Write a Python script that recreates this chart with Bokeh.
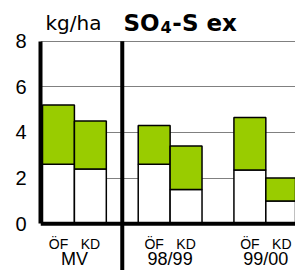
from bokeh.plotting import figure
from bokeh.models import Range1d, FixedTicker, Span, ColumnDataSource
from bokeh.core.properties import value
from bokeh.embed import file_html
from bokeh.resources import INLINE

# ---- data ----
groups = ["MV", "98/99", "99/00"]
subcats = ["ÖF", "KD"]
# lower (white) segment and upper (green) segment per bar, order: group x subcat
lower_part = [2.6, 2.4, 2.6, 1.5, 2.35, 1.0]
upper_part = [2.6, 2.1, 1.7, 1.9, 2.3, 1.0]
y_ticks = [0, 2, 4, 6, 8]
grid_ticks = [2, 4, 6, 8]
unit_label = "kg/ha"

slots_per_group = 3  # two bars + one empty slot

# bar x positions (slot centres) derived from group/subcategory indices
bar_x, bar_sub = [], []
for gi, g in enumerate(groups):
    for si, s in enumerate(subcats):
        bar_x.append(gi * slots_per_group + si + 0.5)
        bar_sub.append(s)
group_x = [gi * slots_per_group + 1.0 for gi in range(len(groups))]

src = ColumnDataSource(dict(x=bar_x, lower=lower_part, upper=upper_part, sub=bar_sub))

Y0, Y1 = -2.05, 9.78
p = figure(width=295, height=270, output_backend="svg", toolbar_location=None,
           x_range=Range1d(-0.063, 7.93), y_range=Range1d(Y0, Y1),
           x_axis_location=None, min_border_left=40, min_border_right=0,
           min_border_top=0, min_border_bottom=0)
p.outline_line_color = None
p.background_fill_color = "white"
p.border_fill_color = "white"

# grid
p.xgrid.visible = False
p.ygrid.ticker = FixedTicker(ticks=grid_ticks)
p.ygrid.grid_line_color = "#808080"
p.ygrid.grid_line_width = 1

# y axis
ax = p.yaxis[0]
ax.ticker = FixedTicker(ticks=y_ticks)
ax.bounds = (0, 8)
ax.axis_line_width = 4
ax.axis_line_color = "black"
ax.major_tick_out = 0
ax.major_tick_in = 0
ax.minor_tick_out = 0
ax.minor_tick_in = 0
ax.major_label_standoff = 14
ax.major_label_text_font = "Liberation Sans"
ax.major_label_text_font_size = "20px"
ax.major_label_text_color = "black"

# stacked bars
p.vbar_stack(["lower", "upper"], x="x", width=1.0, source=src,
             fill_color=["white", "#99CC00"], line_color="black", line_width=1.5)

# baseline
p.add_layout(Span(location=0, dimension="width", line_color="black", line_width=4))

# separator between MV and years
sep_x = slots_per_group - 0.5
p.segment(x0=[sep_x], y0=[8], x1=[sep_x], y1=[Y0], line_color="black", line_width=4)

# category labels
p.text(x=bar_x, y=[-0.88] * len(bar_x), text=bar_sub, text_align="center",
       text_baseline="alphabetic", text_font=value("Liberation Sans"),
       text_font_size="14px", text_color="black")
p.text(x=group_x, y=[-1.56] * len(group_x), text=groups, text_align="center",
       text_baseline="alphabetic", text_font=value("Liberation Sans"),
       text_font_size="18px", text_color="black")

# title texts
p.text(x=[0.094], y=[8.78], text=[unit_label], text_align="left",
       text_baseline="alphabetic", text_font=value("DejaVu Sans"),
       text_font_size="20px", text_color="black")
p.text(x=[2.54], y=[8.78], text=["SO"], text_align="left",
       text_baseline="alphabetic", text_font=value("DejaVu Sans"),
       text_font_size="23px", text_font_style="bold", text_color="black")
p.text(x=[3.70], y=[8.62], text=["4"], text_align="left",
       text_baseline="alphabetic", text_font=value("DejaVu Sans"),
       text_font_size="16px", text_font_style="bold", text_color="black")
p.text(x=[4.07], y=[8.78], text=["-S ex"], text_align="left",
       text_baseline="alphabetic", text_font=value("DejaVu Sans"),
       text_font_size="23px", text_font_style="bold", text_color="black")

open("out.html", "w").write(file_html(p, INLINE))
